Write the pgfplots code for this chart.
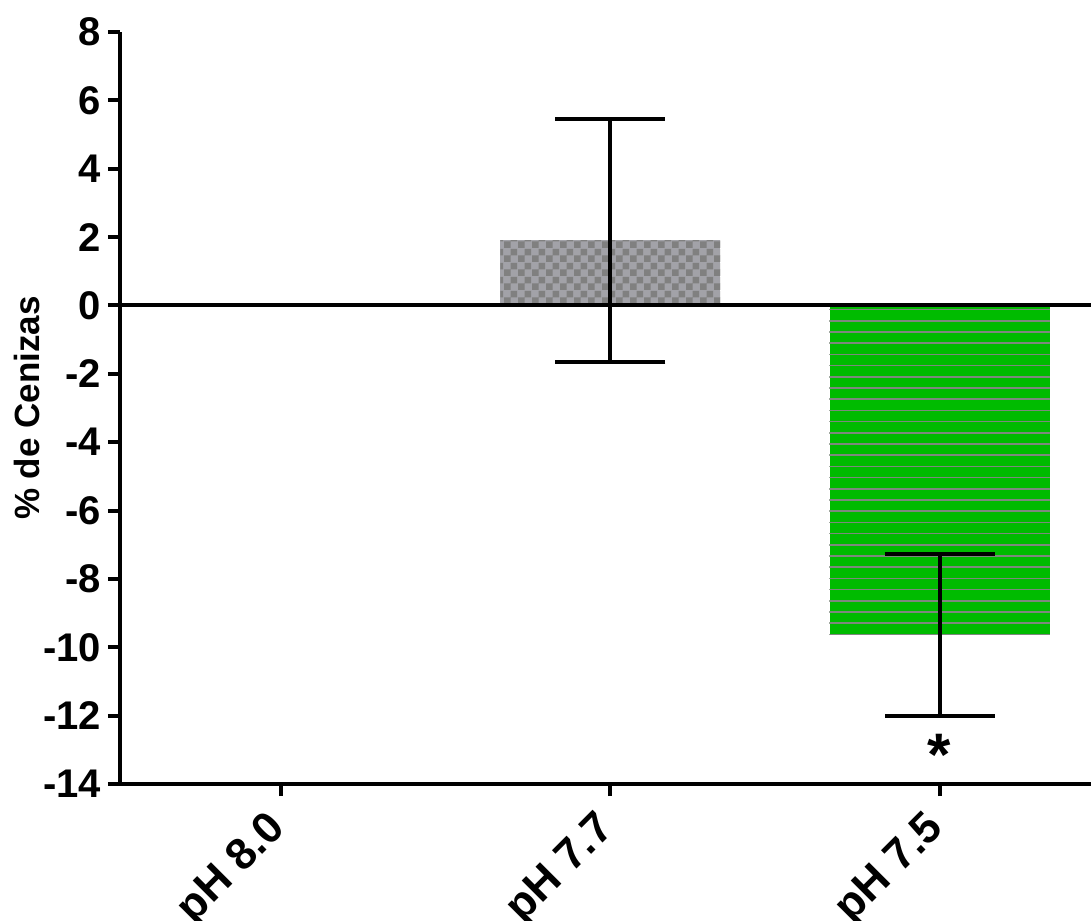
\documentclass[border=0pt]{standalone}
\usepackage{pgfplots}
\pgfplotsset{compat=1.18}
\usepackage{fontspec}
\setmainfont{Liberation Sans}
\usetikzlibrary{patterns}
\definecolor{chkA}{HTML}{A2A2A8}
\definecolor{chkB}{HTML}{808080}
\definecolor{barG}{HTML}{00BB00}
\definecolor{lineG}{HTML}{7E887E}
\pgfdeclarepatternformonly{mychecker}{\pgfpointorigin}{\pgfpoint{7pt}{7pt}}{\pgfpoint{7pt}{7pt}}{%
  \pgfpathrectangle{\pgfpointorigin}{\pgfpoint{3.5pt}{3.5pt}}%
  \pgfpathrectangle{\pgfpoint{3.5pt}{3.5pt}}{\pgfpoint{3.5pt}{3.5pt}}%
  \pgfusepath{fill}}
\pgfdeclarepatternformonly{myhlines}{\pgfpoint{-1pt}{-1pt}}{\pgfpoint{2pt}{6pt}}{\pgfpoint{1pt}{5.6pt}}{%
  \pgfsetlinewidth{0.8pt}%
  \pgfpathmoveto{\pgfpoint{-1pt}{2.8pt}}%
  \pgfpathlineto{\pgfpoint{2pt}{2.8pt}}%
  \pgfusepath{stroke}}
\begin{document}
\begin{tikzpicture}
\begin{axis}[
  name=ax,
  scale only axis,
  width=485.5pt, height=376pt,
  xmin=-0.49, xmax=2.46,
  ymin=-14, ymax=8,
  axis lines=left,
  axis line style={line width=2pt, -},
  ytick={-14,-12,...,8},
  yticklabels={-14,-12,-10,-8,-6,-4,-2,0,2,4,6,8},
  xtick={0,1,2},
  xticklabels={pH 8.0,pH 7.7,pH 7.5},
  tick align=outside,
  major tick length=6pt,
  tick style={line width=2pt, black},
  x tick label style={xshift=1.5pt, yshift=-11pt, rotate=45, anchor=east, font=\fontsize{22}{26}\selectfont\bfseries},
  y tick label style={font=\fontsize{20}{24}\selectfont\bfseries},
  ylabel={\% de Cenizas},
  ylabel style={font=\fontsize{17.5}{21}\selectfont\bfseries, yshift=-5pt},
  clip=false,
]
\addplot[ybar, bar width=110pt, bar shift=0pt, draw=none, fill=chkA,
  postaction={pattern=mychecker, pattern color=chkB},
  error bars/.cd, y dir=both, y explicit,
  error bar style={line width=2pt, black},
  error mark options={rotate=90, mark size=27.5pt, line width=2pt, black}]
  coordinates {(1,1.9) +- (0,3.55)};
\addplot[ybar, bar width=110pt, bar shift=0pt, draw=none, fill=barG,
  postaction={pattern=myhlines, pattern color=lineG},
  error bars/.cd, y dir=both, y explicit,
  error bar style={line width=2pt, black},
  error mark options={rotate=90, mark size=27.5pt, line width=2pt, black}]
  coordinates {(2,-9.65) +- (0,2.37)};
\draw[line width=2pt] (axis cs:-0.49,0) -- (axis cs:2.46,0);
\node[font=\fontsize{30}{34}\selectfont\bfseries] at (axis cs:2,-13.15) {*};
\end{axis}
\pgfresetboundingbox
\path[use as bounding box] ([xshift=-60pt,yshift=-68pt]ax.south west) rectangle ([yshift=16pt]ax.north east);
\end{tikzpicture}
\end{document}
